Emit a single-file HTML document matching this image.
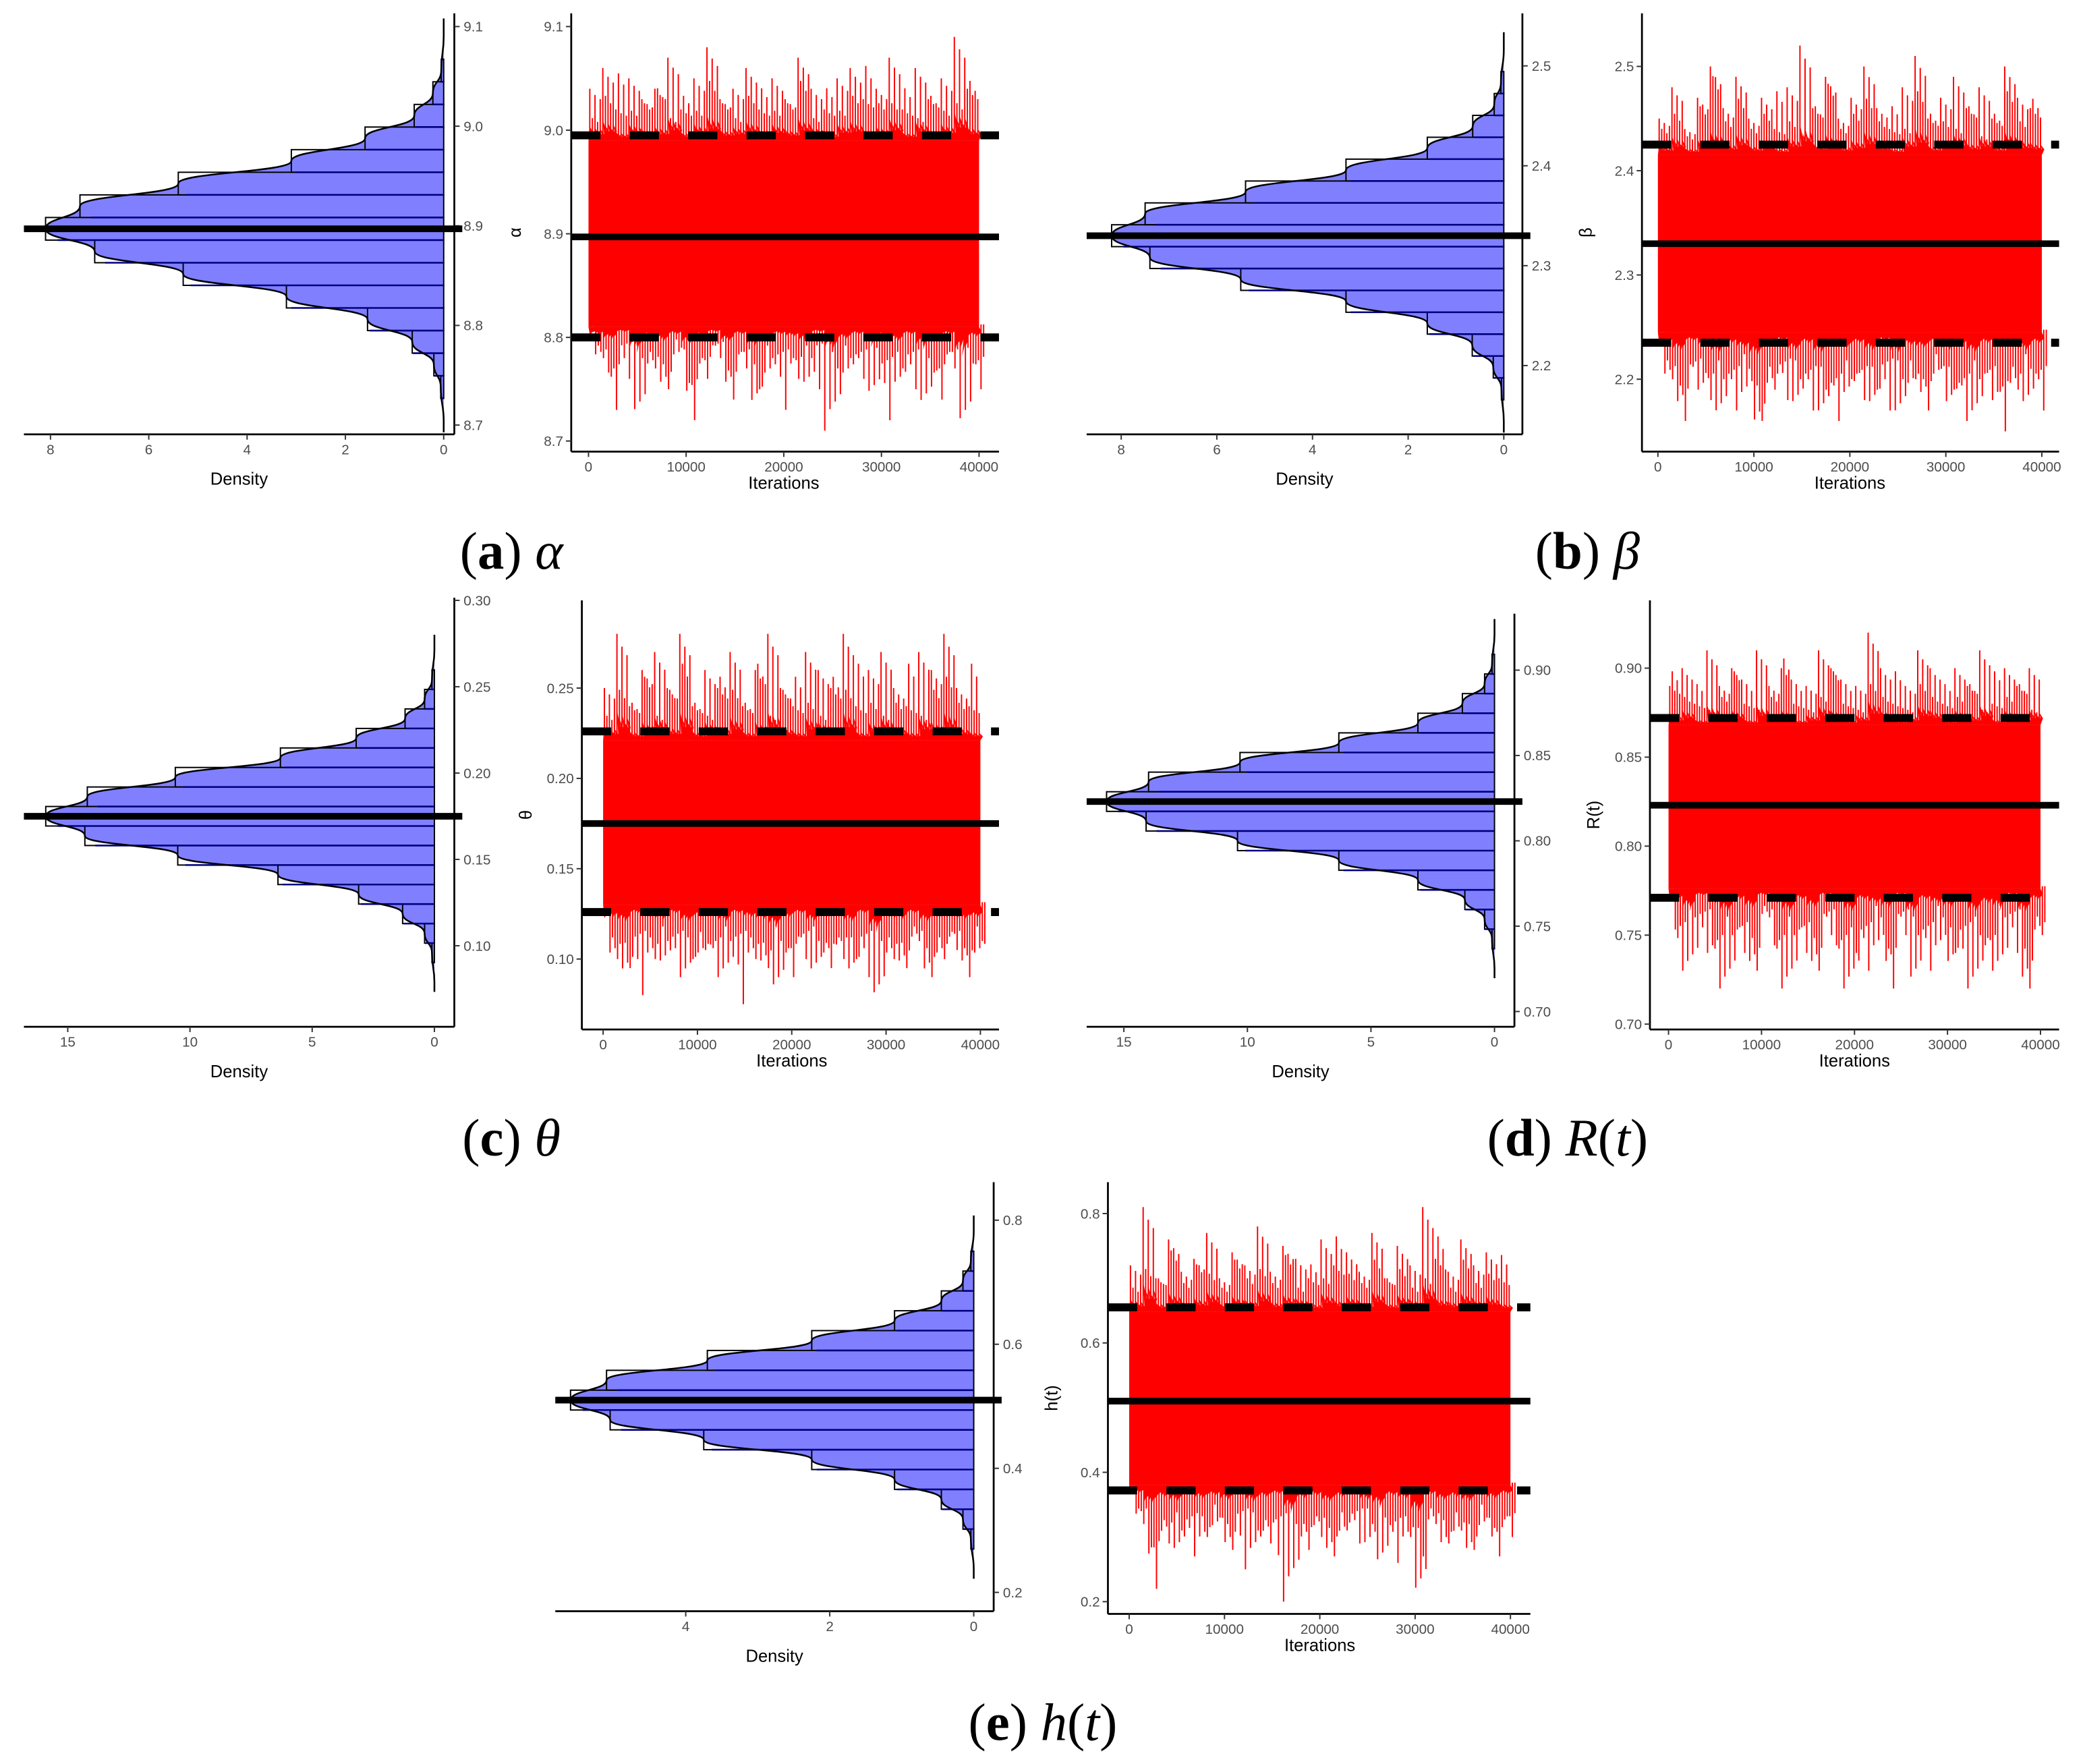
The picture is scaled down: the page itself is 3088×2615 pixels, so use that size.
<!DOCTYPE html>
<html><head><meta charset="utf-8"><style>
html,body{margin:0;padding:0;background:#fff;}
svg{display:block;}
.tk{font-family:"Liberation Sans",sans-serif;font-size:10.5px;fill:#4d4d4d;}
.ti{font-family:"Liberation Sans",sans-serif;font-size:13px;fill:#000;}
.cap{font-family:"Liberation Serif",serif;font-size:40px;fill:#000;}
</style></head><body>
<svg id="fig" width="3088" height="2615" viewBox="0 0 1568 1328" preserveAspectRatio="none" xmlns="http://www.w3.org/2000/svg"></svg>
<script>
// ---- data ----
const densA=[0.06,0.2,0.64,1.55,3.2,5.3,7.1,8.1,7.4,5.4,3.1,1.6,0.6,0.22,0.05];
const densB=[0.05,0.22,0.66,1.6,3.3,5.5,7.4,8.2,7.5,5.4,3.3,1.6,0.65,0.2,0.06];
const densC=[0.1,0.4,1.3,3.1,6.4,10.5,14.3,15.9,14.2,10.6,6.3,3.2,1.2,0.4,0.1];
const densD=[0.1,0.4,1.2,3.1,6.3,10.4,14.1,15.7,14.0,10.3,6.3,3.1,1.3,0.4,0.1];
const densE=[0.04,0.15,0.45,1.1,2.25,3.75,5.05,5.6,5.1,3.7,2.25,1.1,0.45,0.15,0.04];
const hiA=[9.04,9.06,9.02,9.05,9.03,9.04,9.07,9.02,9.05,9.08,9.03,9.04,9.06,9.02,9.05,9.03,9.07,9.04,9.02,9.05,9.06,9.03,9.04,9.07,9.02,9.06,9.03,9.05,9.09,9.04];
const loA=[8.78,8.76,8.79,8.72,8.77,8.75,8.78,8.74,8.77,8.79,8.75,8.78,8.73,8.76,8.78,8.77,8.75,8.79,8.72,8.76,8.78,8.74,8.77,8.75,8.78,8.73,8.76,8.78,8.71,8.77];
const hiB=[2.45,2.48,2.44,2.47,2.50,2.46,2.49,2.45,2.47,2.44,2.48,2.52,2.46,2.49,2.45,2.47,2.50,2.46,2.44,2.48,2.51,2.45,2.47,2.49,2.46,2.48,2.45,2.50,2.47,2.46];
const loB=[2.20,2.17,2.21,2.19,2.16,2.20,2.18,2.15,2.19,2.21,2.17,2.20,2.16,2.19,2.18,2.20,2.17,2.21,2.16,2.19,2.18,2.20,2.17,2.19,2.16,2.20,2.18,2.19,2.17,2.20];
const hiC=[0.25,0.28,0.24,0.26,0.27,0.25,0.28,0.24,0.26,0.25,0.27,0.24,0.26,0.28,0.25,0.24,0.27,0.26,0.25,0.28,0.24,0.26,0.27,0.25,0.24,0.27,0.26,0.28,0.25,0.24];
const loC=[0.10,0.09,0.11,0.10,0.095,0.11,0.09,0.10,0.105,0.09,0.11,0.10,0.095,0.08,0.10,0.11,0.09,0.10,0.105,0.09,0.11,0.075,0.10,0.095,0.11,0.09,0.10,0.11,0.095,0.10];
const hiD=[0.89,0.90,0.88,0.91,0.89,0.90,0.88,0.91,0.89,0.90,0.88,0.89,0.91,0.90,0.88,0.89,0.92,0.90,0.88,0.89,0.91,0.90,0.88,0.90,0.89,0.91,0.88,0.90,0.89,0.90];
const loD=[0.75,0.73,0.76,0.74,0.72,0.75,0.73,0.76,0.74,0.72,0.75,0.73,0.76,0.74,0.72,0.75,0.74,0.73,0.76,0.72,0.75,0.74,0.73,0.75,0.72,0.74,0.73,0.76,0.72,0.75];
const hiE=[0.72,0.81,0.70,0.76,0.71,0.73,0.77,0.70,0.74,0.72,0.78,0.71,0.75,0.73,0.70,0.76,0.72,0.74,0.71,0.77,0.70,0.75,0.72,0.81,0.73,0.71,0.76,0.72,0.74,0.70];
const loE=[0.33,0.26,0.30,0.27,0.32,0.29,0.31,0.28,0.33,0.27,0.30,0.32,0.22,0.29,0.31,0.27,0.30,0.33,0.28,0.25,0.31,0.29,0.20,0.32,0.28,0.30,0.27,0.31,0.29,0.32];
const meansArr=[8.897,2.33,0.175,0.823,0.51];
const qLoArr=[8.80,2.235,0.126,0.771,0.372];
const qHiArr=[8.995,2.425,0.226,0.872,0.655];
const coreLoArr=[8.81,2.245,0.13,0.776,0.38];
const coreHiArr=[8.99,2.415,0.221,0.868,0.648];
const binWArr=[0.0227,0.0219,0.0113,0.0115,0.032];
const yTicksDensity=[["9.1","9.0","8.9","8.8","8.7"],["2.5","2.4","2.3","2.2"],["0.30","0.25","0.20","0.15","0.10"],["0.90","0.85","0.80","0.75","0.70"],["0.8","0.6","0.4","0.2"]];
const dTicks=[[8,6,4,2,0],[8,6,4,2,0],[15,10,5,0],[15,10,5,0],[4,2,0]];
const xTicks=[0,10000,20000,30000,40000];
const ylabels=["α","β","θ","R(t)","h(t)"];
const spikeFrac=[0.1,0.3,0.5,0.7,0.9];
const spikeScale=[1,0.72,0.88,0.6,0.8];

const NS="http://www.w3.org/2000/svg";
const svg=document.getElementById('fig');
function el(tag,attrs,parent,text){const e=document.createElementNS(NS,tag);for(const k in attrs)e.setAttribute(k,attrs[k]);if(text!==undefined)e.textContent=text;(parent||svg).appendChild(e);return e;}

const L=[
 {d:{left:18,right:342,top:10,bot:327,zeroX:334,pxD:37,v0:8.9,y0:170,pxV:750},
  t:{left:430,right:752,top:10,bot:340,x0:443,x1:737,v0:8.9,y0:176,pxV:780},cap:[385,415]},
 {d:{left:818,right:1146,top:10,bot:327,zeroX:1132,pxD:36,v0:2.3,y0:200,pxV:752},
  t:{left:1236,right:1550,top:10,bot:340,x0:1248,x1:1537,v0:2.3,y0:207,pxV:785},cap:[1195,415]},
 {d:{left:18,right:342,top:450,bot:773,zeroX:327,pxD:18.4,v0:0.2,y0:582,pxV:1300},
  t:{left:438,right:752,top:452,bot:775,x0:454,x1:738,v0:0.2,y0:586,pxV:1360},cap:[385,857]},
 {d:{left:818,right:1140,top:462,bot:773,zeroX:1125,pxD:18.6,v0:0.8,y0:633,pxV:1285},
  t:{left:1242,right:1550,top:452,bot:775,x0:1256,x1:1536,v0:0.8,y0:637,pxV:1340},cap:[1180,857]},
 {d:{left:418,right:748,top:890,bot:1213,zeroX:733,pxD:54.2,v0:0.6,y0:1012,pxV:467},
  t:{left:834,right:1152,top:890,bot:1215,x0:850,x1:1137,v0:0.6,y0:1011,pxV:487},cap:[785,1297]}
];
const dens=[densA,densB,densC,densD,densE];
const his=[hiA,hiB,hiC,hiD,hiE], los=[loA,loB,loC,loD,loE];
const yTickVals=[[9.1,9.0,8.9,8.8,8.7],[2.5,2.4,2.3,2.2],[0.30,0.25,0.20,0.15,0.10],[0.90,0.85,0.80,0.75,0.70],[0.8,0.6,0.4,0.2]];
const traceTickVals=[[9.1,9.0,8.9,8.8,8.7],[2.5,2.4,2.3,2.2],[0.25,0.20,0.15,0.10],[0.90,0.85,0.80,0.75,0.70],[0.8,0.6,0.4,0.2]];
const capLetters=["a","b","c","d","e"];
const capSym=[["α"],["β"],["θ"],["R","(","t",")"],["h","(","t",")"]];

for(let p=0;p<5;p++){
 const g=el('g',{});
 
 
 const D=L[p].d, T=L[p].t, arr=dens[p], m=meansArr[p], w=binWArr[p];
 const yD=v=>D.y0-(v-D.v0)*D.pxV, xD=d=>D.zeroX-d*D.pxD;
 const hg=el('g',{},g);
 
 
 const n=arr.length;
 let pts=[[D.zeroX,yD(m-(n/2+1.5)*w)]];
 pts.push([xD(0),yD(m-(n/2+1)*w)]);
 for(let k=0;k<n;k++){pts.push([xD(arr[k]),yD(m+(k-7)*w)]);}
 pts.push([xD(0),yD(m+(n/2+1)*w)]);
 pts.push([D.zeroX,yD(m+(n/2+1.8)*w)]);
 let dpath='M'+pts[0][0]+','+pts[0][1];
 for(let i=1;i<pts.length;i++){const a=pts[i-1],b=pts[i];const my=(a[1]+b[1])/2;dpath+=' C'+a[0]+','+my+' '+b[0]+','+my+' '+b[0]+','+b[1];}
 const area=el('path',{d:dpath+' Z',fill:'#8080ff',stroke:'none'},hg);
 
 
 for(let k=0;k<n;k++){
  const yt=yD(m+(k-7.5)*w), yb=yD(m+(k-6.5)*w);
  const r=el('rect',{x:xD(arr[k]),y:Math.min(yt,yb),width:arr[k]*D.pxD,height:Math.abs(yb-yt),fill:'none',stroke:'#000','stroke-width':1},hg);
  
  
  el('line',{x1:D.zeroX,x2:xD(arr[k]*0.97),y1:yt,y2:yt,stroke:'#00007f','stroke-width':1.3},hg);
 }
 el('path',{d:dpath,fill:'none',stroke:'#000','stroke-width':1.3},hg);
 const ax=el('line',{x1:D.left,x2:D.right,y1:D.bot,y2:D.bot,stroke:'#000','stroke-width':1.4},g);
 
 const ay=el('line',{x1:D.right,x2:D.right,y1:D.top,y2:D.bot,stroke:'#000','stroke-width':1.4},g);
 
 yTickVals[p].forEach((v,i)=>{const y=yD(v);el('line',{x1:D.right,x2:D.right+4,y1:y,y2:y,stroke:'#333'},g);
  const t=el('text',{x:D.right+7,y:y+3.7,class:'tk'},g,yTicksDensity[p][i]);});
 dTicks[p].forEach(v=>{const x=xD(v);el('line',{x1:x,x2:x,y1:D.bot,y2:D.bot+4,stroke:'#333'},g);
  const t=el('text',{x:x,y:D.bot+15,class:'tk','text-anchor':'middle'},g,String(v));});
 const dt=el('text',{x:(D.left+D.right)/2,y:D.bot+38,class:'ti','text-anchor':'middle'},g,'Density');
 
 const ml=el('line',{x1:D.left,x2:D.right+6,y1:yD(m),y2:yD(m),stroke:'#000','stroke-width':5},g);
 

 // trace
 const yT=v=>T.y0-(v-T.v0)*T.pxV, xT=it=>T.x0+(it/40000)*(T.x1-T.x0);
 const tg=el('g',{},g);
 
 
 const hi=his[p], lo=los[p], cl=coreLoArr[p], ch=coreHiArr[p], N=hi.length;
 const core=el('rect',{x:xT(0),y:yT(ch),width:xT(40000)-xT(0),height:yT(cl)-yT(ch),fill:'#ff0000'},tg);
 
 for(let i=0;i<N;i++){
  const hiN=hi[(i+7)%N], loN=lo[(i+11)%N];
  spikeFrac.forEach((f,j)=>{
   const it=(i+f)*40000/N;
   const hv=ch+((j%2?hiN:hi[i])-ch)*spikeScale[j];
   const lv=cl-(cl-(j%2?loN:lo[i]))*spikeScale[(j+2)%5];
   const s1=el('line',{x1:xT(it),x2:xT(it),y1:yT(ch)+2,y2:yT(hv),stroke:'#ff0000','stroke-width':1},tg);
   
   const s2=el('line',{x1:xT(it+600),x2:xT(it+600),y1:yT(cl)-2,y2:yT(lv),stroke:'#ff0000','stroke-width':1},tg);
   
  });
 }
 let up='M'+xT(0)+','+yT(ch), dn='M'+xT(0)+','+yT(cl);
 for(let i=0;i<N;i++){
  for(let j=0;j<5;j++){
   const it=(i+spikeFrac[j])*40000/N;
   up+=' L'+xT(it)+','+yT(ch+(hi[i]-ch)*0.28*spikeScale[j])+' L'+xT(it+400)+','+yT(ch+(hi[i]-ch)*0.12);
   dn+=' L'+xT(it)+','+yT(cl-(cl-lo[i])*0.28*spikeScale[(j+2)%5])+' L'+xT(it+400)+','+yT(cl-(cl-lo[i])*0.12);
  }
 }
 up+=' L'+xT(40000)+','+yT(ch)+' Z'; dn+=' L'+xT(40000)+','+yT(cl)+' Z';
 el('path',{d:up,fill:'#ff0000'},tg); el('path',{d:dn,fill:'#ff0000'},tg);
 const tax=el('line',{x1:T.left,x2:T.right,y1:T.bot,y2:T.bot,stroke:'#000','stroke-width':1.4},g);
 
 const tay=el('line',{x1:T.left,x2:T.left,y1:T.top,y2:T.bot,stroke:'#000','stroke-width':1.4},g);
 
 traceTickVals[p].forEach(v=>{const y=yT(v);el('line',{x1:T.left-4,x2:T.left,y1:y,y2:y,stroke:'#333'},g);
  const t=el('text',{x:T.left-6,y:y+3.7,class:'tk','text-anchor':'end'},g,yTicksDensity[p].find(s=>Math.abs(parseFloat(s)-v)<1e-9)||String(v));
  });
 xTicks.forEach(v=>{const x=xT(v);el('line',{x1:x,x2:x,y1:T.bot,y2:T.bot+4,stroke:'#333'},g);
  const t=el('text',{x:x,y:T.bot+15,class:'tk','text-anchor':'middle'},g,String(v));});
 const it=el('text',{x:(T.x0+T.x1)/2,y:T.bot+28,class:'ti','text-anchor':'middle'},g,'Iterations');
 
 const yl=el('text',{x:0,y:0,class:'ti','text-anchor':'middle',transform:'translate('+(T.left-38)+','+((T.top+T.bot)/2)+') rotate(-90)'},g,ylabels[p]);
 
 [qLoArr[p],qHiArr[p]].forEach(q=>{const l=el('line',{x1:T.left,x2:T.right,y1:yT(q),y2:yT(q),stroke:'#000','stroke-width':6,'stroke-dasharray':'22 22'},g);
  });
 const tm=el('line',{x1:T.left,x2:T.right,y1:yT(m),y2:yT(m),stroke:'#000','stroke-width':5},g);
 

 const c=el('text',{x:L[p].cap[0],y:L[p].cap[1]+13,class:'cap','text-anchor':'middle'},g);
 
 el('tspan',{},c,'(');el('tspan',{'font-weight':'bold'},c,capLetters[p]);el('tspan',{},c,') ');
 capSym[p].forEach(s=>{el('tspan',{'font-style':(s==='('||s===')')?'normal':'italic'},c,s);});
}
</script>
</body></html>
